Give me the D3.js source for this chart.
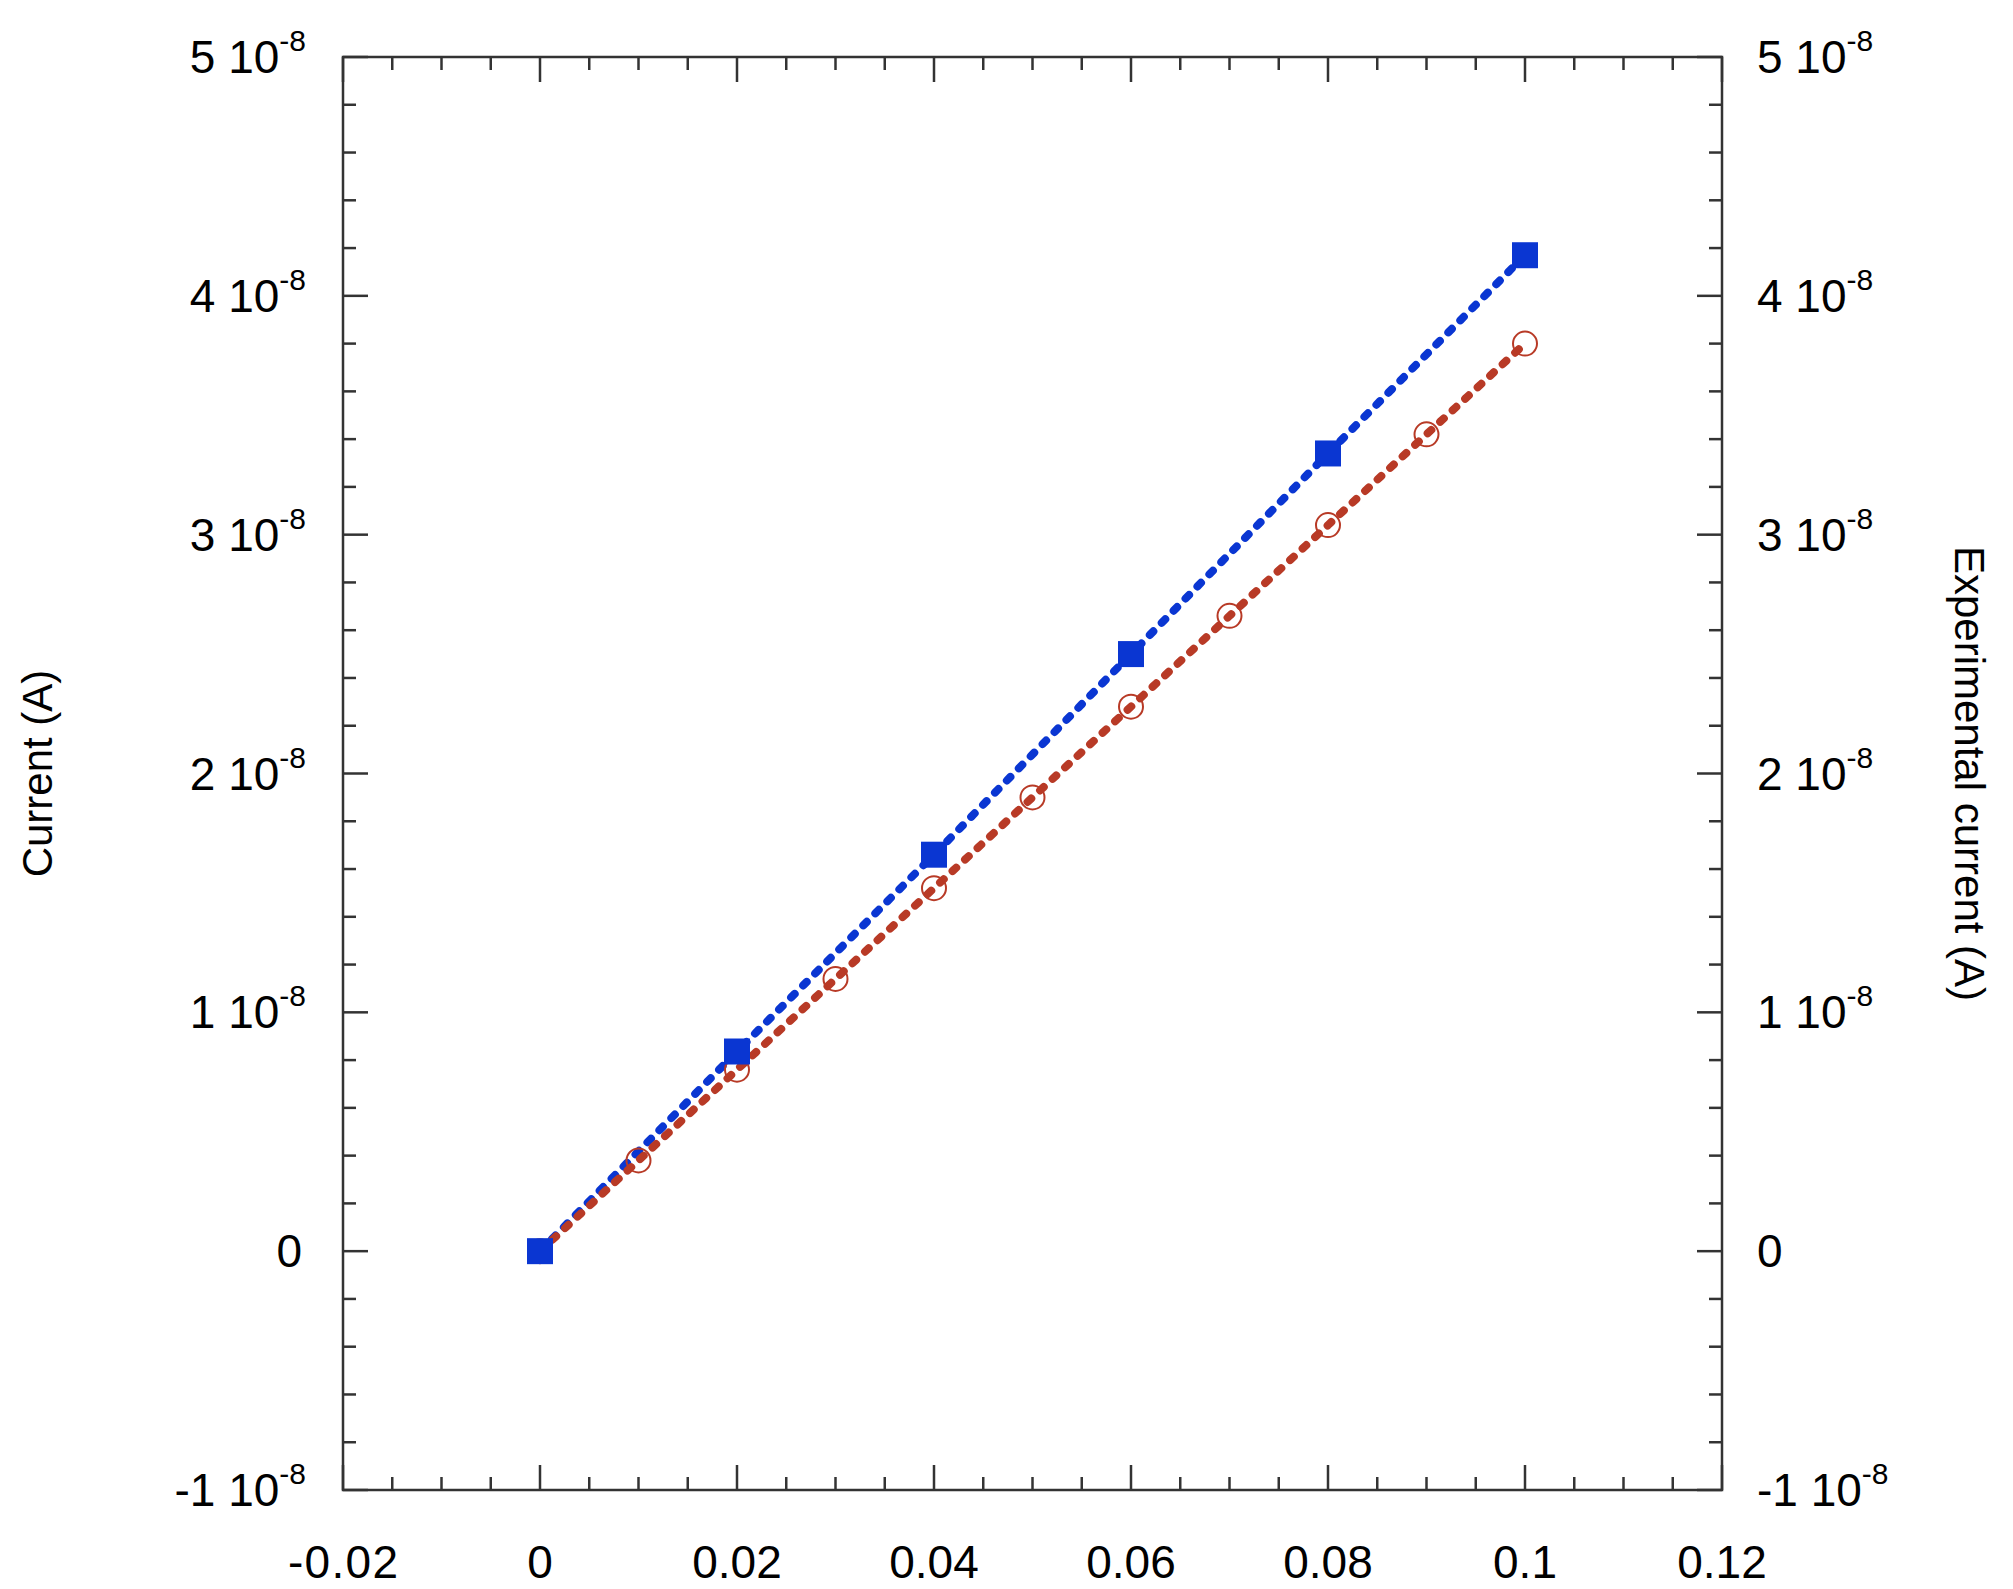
<!DOCTYPE html>
<html><head><meta charset="utf-8">
<script src="https://cdn.jsdelivr.net/npm/d3@7"></script>
<style>body{margin:0;background:#fff}text{font-family:"Liberation Sans",Arial,sans-serif;fill:#000}</style>
</head><body><svg id="chart" width="2013" height="1589"></svg>
<script>
// data
const blueX = [0, 0.02, 0.04, 0.06, 0.08, 0.1];
const blueY = [0, 0.836e-8, 1.66e-8, 2.50e-8, 3.34e-8, 4.17e-8];
const redX = [0, 0.01, 0.02, 0.03, 0.04, 0.05, 0.06, 0.07, 0.08, 0.09, 0.1];
const redY = [0, 0.38e-8, 0.76e-8, 1.14e-8, 1.52e-8, 1.90e-8, 2.28e-8, 2.66e-8, 3.04e-8, 3.42e-8, 3.80e-8];
const xTicks = [-0.02, 0, 0.02, 0.04, 0.06, 0.08, 0.1, 0.12];
const yTicks = [-1, 0, 1, 2, 3, 4, 5];

const margin = {left: 343, right: 2013 - 1722, top: 57, bottom: 1589 - 1490};
const width = 2013, height = 1589;
const svg = d3.select("#chart");

const x = d3.scaleLinear().domain([-0.02, 0.12]).range([margin.left, width - margin.right]);
const y = d3.scaleLinear().domain([-1e-8, 5e-8]).range([height - margin.bottom, margin.top]);

const xMinor = d3.range(-0.02, 0.12001, 0.005);
const yMinor = d3.range(-1, 5.001, 0.2);

// frame
svg.append("rect").attr("x", x(-0.02)).attr("y", y(5e-8))
  .attr("width", x(0.12) - x(-0.02)).attr("height", y(-1e-8) - y(5e-8))
  .attr("fill", "none").attr("stroke", "#333").attr("stroke-width", 2.5);

const ticks = svg.append("g").attr("stroke", "#333").attr("stroke-width", 2.5);
xMinor.forEach(v => {
  const major = xTicks.some(t => Math.abs(t - v) < 1e-9);
  const len = major ? 25 : 13;
  ticks.append("line").attr("x1", x(v)).attr("x2", x(v)).attr("y1", y(-1e-8)).attr("y2", y(-1e-8) - len);
  ticks.append("line").attr("x1", x(v)).attr("x2", x(v)).attr("y1", y(5e-8)).attr("y2", y(5e-8) + len);
});
yMinor.forEach(v => {
  const major = Math.abs(v - Math.round(v)) < 1e-9;
  const len = major ? 25 : 13;
  ticks.append("line").attr("y1", y(v * 1e-8)).attr("y2", y(v * 1e-8)).attr("x1", x(-0.02)).attr("x2", x(-0.02) + len);
  ticks.append("line").attr("y1", y(v * 1e-8)).attr("y2", y(v * 1e-8)).attr("x1", x(0.12)).attr("x2", x(0.12) - len);
});

// x tick labels
svg.append("g").selectAll("text").data(xTicks).join("text")
  .attr("x", d => x(d)).attr("y", 1578).attr("text-anchor", "middle")
  .attr("font-size", 46).attr("textLength", d => d < 0 ? 110 : null)
  .text(d => String(+d.toFixed(2)));

// y tick labels (left and right)
function yLabel(g, v, anchorX, anchor) {
  const t = g.append("text").attr("y", y(v * 1e-8) + 16).attr("font-size", 46)
    .attr("x", anchorX).attr("text-anchor", anchor);
  if (v === 0) { t.text("0"); return; }
  t.append("tspan").text(v + " 10");
  t.append("tspan").attr("font-size", 30).attr("dy", -22).text("-8");
}
const yl = svg.append("g"), yr = svg.append("g");
yTicks.forEach(v => {
  yLabel(yl, v, v === 0 ? 302 : 306, "end");
  yLabel(yr, v, 1757, "start");
});

// axis titles
svg.append("text").attr("transform", `translate(52,${(y(5e-8) + y(-1e-8)) / 2}) rotate(-90)`)
  .attr("text-anchor", "middle").attr("font-size", 42).text("Current (A)");
svg.append("text").attr("transform", `translate(1955,${(y(5e-8) + y(-1e-8)) / 2}) rotate(90)`)
  .attr("text-anchor", "middle").attr("font-size", 42).text("Experimental current (A)");

const blue = "#0a36d2", red = "#b83a26";
const line = d3.line().x(d => x(d[0])).y(d => y(d[1]));

// blue series
svg.append("path").datum(blueX.map((v, i) => [v, blueY[i]])).attr("d", line)
  .attr("fill", "none").attr("stroke", blue).attr("stroke-width", 8)
  .attr("stroke-dasharray", "5 12").attr("stroke-linecap", "round");
// red series
svg.append("path").datum(redX.map((v, i) => [v, redY[i]])).attr("d", line)
  .attr("fill", "none").attr("stroke", red).attr("stroke-width", 8)
  .attr("stroke-dasharray", "5 12").attr("stroke-linecap", "round");

svg.append("g").selectAll("circle").data(redX).join("circle")
  .attr("cx", d => x(d)).attr("cy", (d, i) => y(redY[i])).attr("r", 12)
  .attr("fill", "none").attr("stroke", red).attr("stroke-width", 2);

svg.append("g").selectAll("rect").data(blueX).join("rect")
  .attr("x", d => x(d) - 13).attr("y", (d, i) => y(blueY[i]) - 13)
  .attr("width", 26).attr("height", 26).attr("fill", blue);
</script></body></html>
